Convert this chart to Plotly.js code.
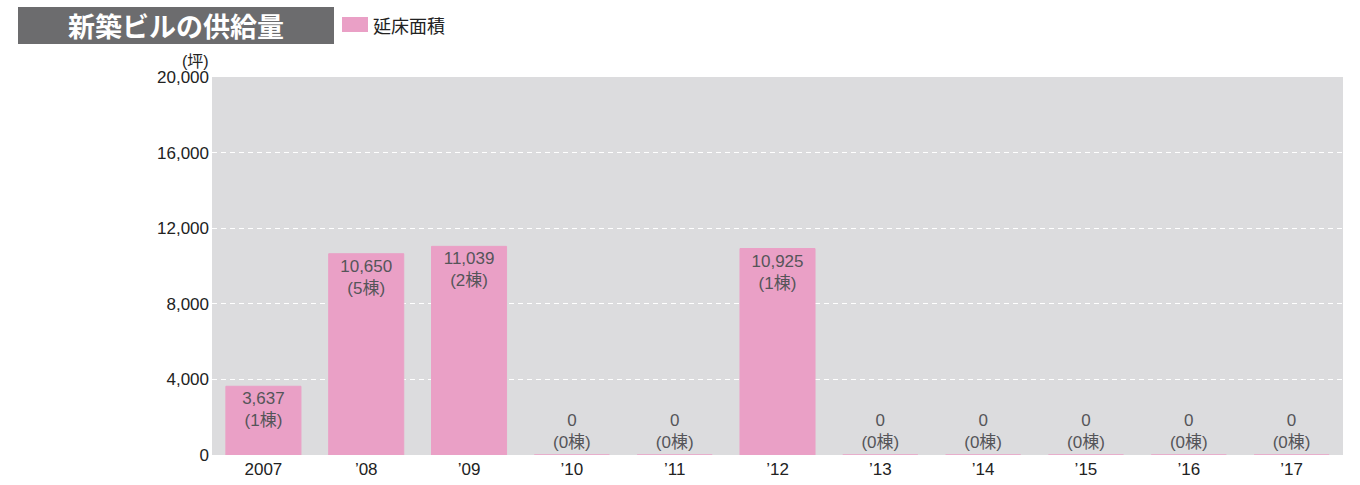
<!DOCTYPE html>
<html>
<head>
<meta charset="utf-8">
<script src="https://cdn.plot.ly/plotly-3.0.1.min.js"></script>
<style>html,body{margin:0;padding:0;background:#fff;}#chart{width:1360px;height:485px;}</style>
</head>
<body>
<div id="chart"></div>
<script>
const categories = ['2007', '’08', '’09', '’10', '’11', '’12', '’13', '’14', '’15', '’16', '’17'];
const floorArea = [3637, 10650, 11039, 0, 0, 10925, 0, 0, 0, 0, 0];
const buildingCount = [1, 5, 2, 0, 0, 1, 0, 0, 0, 0, 0];
const yTickValues = [0, 4000, 8000, 12000, 16000, 20000];
const yTickLabels = ['0', '4,000', '8,000', '12,000', '16,000', '20,000'];
const seriesName = '延床面積';
const chartTitle = '新築ビルの供給量';
const unitLabel = '(坪)';

const FONT = 'Liberation Sans, Arial, "Noto Sans CJK JP", sans-serif';
const PINK = '#eaa0c6';

const trace = {
  type: 'bar',
  x: categories,
  y: floorArea,
  customdata: buildingCount,
  name: seriesName,
  marker: {color: PINK, line: {color: PINK, width: 1}},
  texttemplate: '%{y:,}<br>(%{customdata}棟)',
  textposition: floorArea.map(v => v > 0 ? 'inside' : 'outside'),
  insidetextanchor: 'end',
  constraintext: 'none',
  cliponaxis: false,
  textfont: {family: FONT, size: 17, color: '#555559'},
  hoverinfo: 'skip',
  showlegend: false
};

const layout = {
  width: 1360,
  height: 485,
  margin: {l: 212, r: 17, t: 77, b: 30},
  paper_bgcolor: '#ffffff',
  plot_bgcolor: '#dcdcde',
  bargap: 0.27,
  font: {family: FONT, color: '#222222'},
  xaxis: {
    type: 'category',
    showgrid: false,
    zeroline: false,
    showline: false,
    ticks: '',
    tickfont: {family: FONT, size: 17, color: '#222222'},
    ticklabelstandoff: 2
  },
  yaxis: {
    range: [0, 20000],
    tickvals: yTickValues,
    ticktext: yTickLabels,
    showgrid: true,
    gridcolor: '#ffffff',
    griddash: '5px,4px',
    gridwidth: 1.3,
    zeroline: false,
    showline: false,
    ticks: '',
    tickfont: {family: FONT, size: 17, color: '#222222'},
    ticklabelstandoff: 2
  },
  shapes: [
    {type: 'rect', xref: 'paper', yref: 'paper',
     x0: (342 - 212) / 1131, x1: (368 - 212) / 1131,
     y0: (455 - 32) / 378, y1: (455 - 17) / 378,
     fillcolor: PINK, line: {width: 0}}
  ],
  annotations: [
    {xref: 'paper', yref: 'paper', x: (18 - 212) / 1131, y: (455 - 7) / 378,
     xanchor: 'left', yanchor: 'top', width: 316, height: 37,
     text: '<b>' + chartTitle + '</b>', showarrow: false,
     bgcolor: '#6c6c6e', borderpad: 0, borderwidth: 0,
     font: {family: '"Noto Sans CJK JP", sans-serif', size: 27, color: '#ffffff'}},
    {xref: 'paper', yref: 'paper', x: (371 - 212) / 1131, y: (455 - 25) / 378,
     xanchor: 'left', yanchor: 'middle', text: seriesName, showarrow: false,
     font: {family: '"Noto Sans CJK JP", sans-serif', size: 18, color: '#222222'}},
    {xref: 'paper', yref: 'paper', x: (195 - 212) / 1131, y: (455 - 62) / 378,
     xanchor: 'center', yanchor: 'middle', text: unitLabel, showarrow: false,
     font: {family: FONT, size: 16, color: '#222222'}}
  ]
};

Plotly.newPlot('chart', [trace], layout, {displayModeBar: false, staticPlot: true});
</script>
</body>
</html>
